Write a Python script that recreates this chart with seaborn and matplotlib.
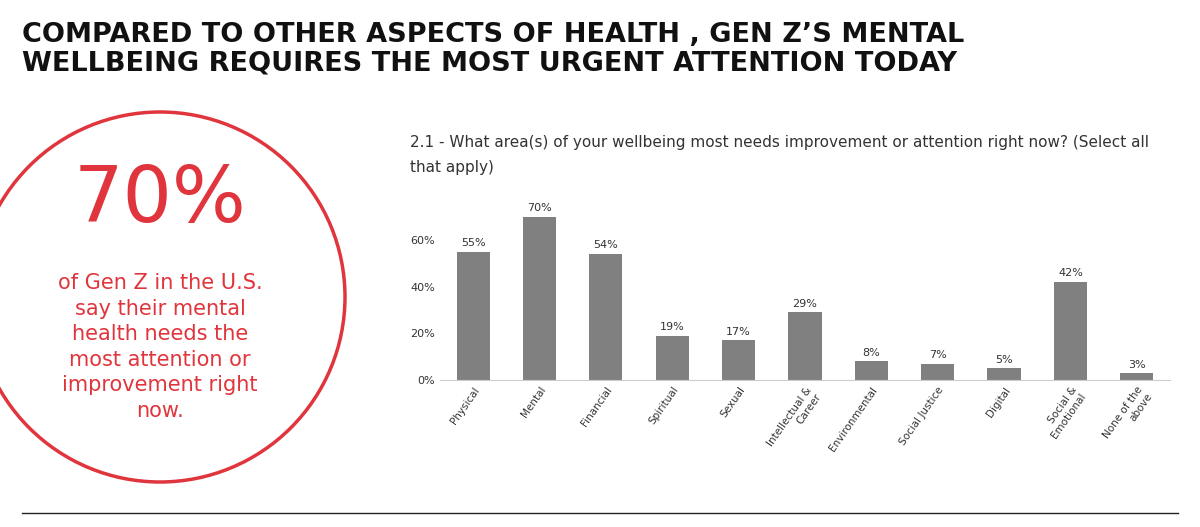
import matplotlib
matplotlib.use("Agg")
import matplotlib.pyplot as plt
import seaborn as sns
import pandas as pd
from matplotlib.patches import Ellipse

categories = ["Physical", "Mental", "Financial", "Spiritual", "Sexual",
              "Intellectual &\nCareer", "Environmental", "Social Justice",
              "Digital", "Social &\nEmotional", "None of the\nabove"]
values = [55, 70, 54, 19, 17, 29, 8, 7, 5, 42, 3]
yticks = [0, 20, 40, 60]

df = pd.DataFrame({"area": categories, "pct": values})
RED = "#e0353c"

fig = plt.figure(figsize=(12, 5.27), dpi=100)

# titre
fig.text(0.018, 0.958, "COMPARED TO OTHER ASPECTS OF HEALTH , GEN Z\u2019S MENTAL\nWELLBEING REQUIRES THE MOST URGENT ATTENTION TODAY",
         fontsize=19.5, fontweight="heavy", family="DejaVu Sans", va="top", ha="left",
         linespacing=1.1, color="#111111")

# cercle
fig.patches.append(Ellipse((160 / 1200, 1 - 297 / 527), 370 / 1200, 370 / 527,
                           transform=fig.transFigure, fill=False, ec=RED, lw=2.5))
fig.text(160 / 1200, 1 - 200 / 527, "70%", color=RED, fontsize=56, ha="center", va="center")
fig.text(160 / 1200, 1 - 347 / 527,
         "of Gen Z in the U.S.\nsay their mental\nhealth needs the\nmost attention or\nimprovement right\nnow.",
         color=RED, fontsize=15, ha="center", va="center", linespacing=1.35)

# question
fig.text(410 / 1200, 1 - 155 / 527,
         "2.1 - What area(s) of your wellbeing most needs improvement or attention right now? (Select all\nthat apply)",
         fontsize=11, color="#333333", va="center", ha="left", linespacing=1.8)

# barres
ax = fig.add_axes([440 / 1200, 1 - 380 / 527, 730 / 1200, 175 / 527])
sns.barplot(data=df, x="area", y="pct", color="#808080", width=0.5, ax=ax, saturation=1)
ax.set_ylim(0, 75)
ax.set_yticks(yticks)
ax.set_yticklabels([f"{t}%" for t in yticks], fontsize=8, color="#333333")
ax.set_xticks(range(len(categories)))
ax.set_xticklabels(categories, rotation=55, ha="right", rotation_mode="anchor", fontsize=7.5, color="#333333")
ax.tick_params(length=0)
ax.set_xlabel("")
ax.set_ylabel("")
for s in ["top", "right", "left"]:
    ax.spines[s].set_visible(False)
ax.spines["bottom"].set_color("#cccccc")
for i, v in enumerate(values):
    ax.text(i, v + 1.5, f"{v}%", ha="center", va="bottom", fontsize=8, color="#333333")

fig.add_artist(plt.Line2D([22 / 1200, 1178 / 1200], [1 - 513 / 527] * 2,
                          transform=fig.transFigure, color="#222222", lw=1))

fig.savefig("out.png", dpi=100)
